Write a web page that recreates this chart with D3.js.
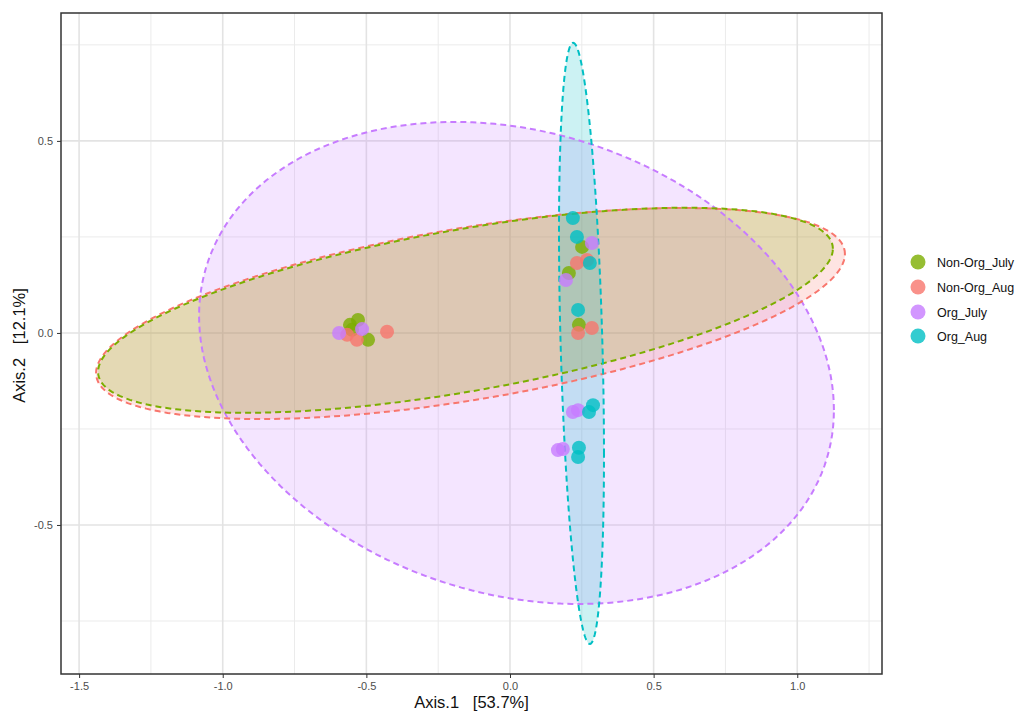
<!DOCTYPE html>
<html>
<head>
<meta charset="utf-8">
<script src="https://cdn.jsdelivr.net/npm/d3@7"></script>
<style>
  html, body { margin: 0; padding: 0; background: #fff; }
  svg { display: block; }
</style>
</head>
<body>
<svg id="chart" width="1021" height="713"></svg>
<script>
// ---------- data ----------
const groups = ["Non-Org_July", "Non-Org_Aug", "Org_July", "Org_Aug"];
const groupColors = ["#7CAE00", "#F8766D", "#C77CFF", "#00BFC4"];

const nonOrgJulyX = [-0.529, -0.557, -0.550, -0.494, 0.251, 0.205, 0.240];
const nonOrgJulyY = [0.034, 0.021, 0.008, -0.018, 0.224, 0.156, 0.021];

const nonOrgAugX = [-0.567, -0.533, -0.428, 0.268, 0.233, 0.285, 0.237];
const nonOrgAugY = [-0.005, -0.018, 0.003, 0.190, 0.182, 0.013, 0.000];

const orgJulyX = [-0.595, -0.515, 0.285, 0.195, 0.219, 0.237, 0.167, 0.184];
const orgJulyY = [0.000, 0.010, 0.234, 0.138, -0.206, -0.201, -0.305, -0.302];

const orgAugX = [0.219, 0.233, 0.278, 0.237, 0.289, 0.275, 0.240, 0.237];
const orgAugY = [0.299, 0.250, 0.182, 0.060, -0.188, -0.206, -0.299, -0.323];

// 95% ellipse parameters per group (data units): centre, spread along x / y, covariance term
const ellipseCenterX = [-0.155, -0.1375, 0.0226, 0.2489];
const ellipseCenterY = [0.059, 0.0505, -0.0781, -0.0273];
const ellipseSpreadX = [1.279, 1.3035, 1.105, 0.0783];
const ellipseSpreadY = [0.267, 0.2747, 0.6276, 0.7826];
const ellipseCov = [0.2049, 0.2020, -0.1353, -0.02266];

const xTicks = [-1.5, -1.0, -0.5, 0.0, 0.5, 1.0];
const xMinor = [-1.25, -0.75, -0.25, 0.25, 0.75, 1.25];
const yTicks = [-0.5, 0.0, 0.5];
const yMinor = [-0.75, -0.25, 0.25, 0.75];
const xTitle = "Axis.1   [53.7%]";
const yTitle = "Axis.2   [12.1%]";

// ---------- layout ----------
const svg = d3.select("#chart");
const P = { left: 61, right: 882, top: 13, bottom: 674 };
const x = d3.scaleLinear().domain([-1.563, 1.295]).range([P.left, P.right]);
const y = d3.scaleLinear().domain([-0.888, 0.833]).range([P.bottom, P.top]);
const fmt = d => d3.format(".1f")(d).replace("\u2212", "-");

svg.append("rect").attr("x", P.left).attr("y", P.top)
  .attr("width", P.right - P.left).attr("height", P.bottom - P.top).attr("fill", "#fff");

const grid = svg.append("g");
grid.selectAll(".xmin").data(xMinor).join("line")
  .attr("x1", d => x(d)).attr("x2", d => x(d)).attr("y1", P.top).attr("y2", P.bottom)
  .attr("stroke", "#ebebeb").attr("stroke-width", 1);
grid.selectAll(".ymin").data(yMinor).join("line")
  .attr("y1", d => y(d)).attr("y2", d => y(d)).attr("x1", P.left).attr("x2", P.right)
  .attr("stroke", "#ebebeb").attr("stroke-width", 1);
grid.selectAll(".xmaj").data(xTicks).join("line")
  .attr("x1", d => x(d)).attr("x2", d => x(d)).attr("y1", P.top).attr("y2", P.bottom)
  .attr("stroke", "#e3e3e3").attr("stroke-width", 1.6);
grid.selectAll(".ymaj").data(yTicks).join("line")
  .attr("y1", d => y(d)).attr("y2", d => y(d)).attr("x1", P.left).attr("x2", P.right)
  .attr("stroke", "#e3e3e3").attr("stroke-width", 1.6);

// ---------- ellipses ----------
function ellipsePoints(i) {
  const sx = ellipseSpreadX[i], sy = ellipseSpreadY[i], c = ellipseCov[i];
  const l21 = c / sx;
  const l22 = Math.sqrt(sy * sy - l21 * l21);
  return d3.range(0, 361, 2).map(a => {
    const t = a * Math.PI / 180;
    return [ellipseCenterX[i] + sx * Math.cos(t),
            ellipseCenterY[i] + l21 * Math.cos(t) + l22 * Math.sin(t)];
  });
}
const line = d3.line().x(d => x(d[0])).y(d => y(d[1])).curve(d3.curveLinearClosed);
svg.append("clipPath").attr("id", "panel").append("rect")
  .attr("x", P.left).attr("y", P.top).attr("width", P.right - P.left).attr("height", P.bottom - P.top);

const drawOrder = [2, 1, 0, 3];
const eg = svg.append("g").attr("clip-path", "url(#panel)");
eg.selectAll("path.fill").data(drawOrder).join("path")
  .attr("d", i => line(ellipsePoints(i)))
  .attr("fill", i => groupColors[i]).attr("fill-opacity", 0.2).attr("stroke", "none");
eg.selectAll("path.edge").data(drawOrder).join("path")
  .attr("d", i => line(ellipsePoints(i)))
  .attr("fill", "none").attr("stroke", i => groupColors[i])
  .attr("stroke-width", 2).attr("stroke-dasharray", "6,4");

// ---------- points ----------
const seriesX = [nonOrgJulyX, nonOrgAugX, orgJulyX, orgAugX];
const seriesY = [nonOrgJulyY, nonOrgAugY, orgJulyY, orgAugY];
const pts = [];
seriesX.forEach((xs, g) => xs.forEach((v, k) => pts.push({ g, x: v, y: seriesY[g][k] })));
svg.append("g").selectAll("circle").data(pts).join("circle")
  .attr("cx", d => x(d.x)).attr("cy", d => y(d.y)).attr("r", 7)
  .attr("fill", d => groupColors[d.g]).attr("fill-opacity", 0.8);

// ---------- frame & axes ----------
svg.append("rect").attr("x", P.left).attr("y", P.top)
  .attr("width", P.right - P.left).attr("height", P.bottom - P.top)
  .attr("fill", "none").attr("stroke", "#333").attr("stroke-width", 1.5);

const xAxis = svg.append("g").attr("transform", `translate(0,${P.bottom})`)
  .call(d3.axisBottom(x).tickValues(xTicks).tickFormat(fmt).tickSize(4).tickPadding(4));
xAxis.select(".domain").remove();
xAxis.selectAll("line").attr("stroke", "#333");
xAxis.selectAll("text").attr("fill", "#4d4d4d").attr("font-size", 11)
  .attr("font-family", "'Liberation Sans', Arial, sans-serif");

const yAxis = svg.append("g").attr("transform", `translate(${P.left},0)`)
  .call(d3.axisLeft(y).tickValues(yTicks).tickFormat(fmt).tickSize(4).tickPadding(4));
yAxis.select(".domain").remove();
yAxis.selectAll("line").attr("stroke", "#333");
yAxis.selectAll("text").attr("fill", "#4d4d4d").attr("font-size", 11)
  .attr("font-family", "'Liberation Sans', Arial, sans-serif");

svg.append("text").attr("x", (P.left + P.right) / 2).attr("y", 708)
  .attr("text-anchor", "middle").attr("font-size", 16.5).attr("fill", "#111")
  .attr("font-family", "'Liberation Sans', Arial, sans-serif")
  .style("white-space", "pre").text(xTitle);
svg.append("text").attr("transform", `translate(25,${(P.top + P.bottom) / 2 + 2}) rotate(-90)`)
  .attr("text-anchor", "middle").attr("font-size", 16.5).attr("fill", "#111")
  .attr("font-family", "'Liberation Sans', Arial, sans-serif")
  .style("white-space", "pre").text(yTitle);

// ---------- legend ----------
const legendY = [262, 287, 312, 336];
const lg = svg.append("g");
lg.selectAll("circle").data(groups).join("circle")
  .attr("cx", 918).attr("cy", (d, i) => legendY[i]).attr("r", 7.5)
  .attr("fill", (d, i) => groupColors[i]).attr("fill-opacity", 0.8);
lg.selectAll("text").data(groups).join("text")
  .attr("x", 937).attr("y", (d, i) => legendY[i] + 4.5)
  .attr("font-size", 12.5).attr("fill", "#111")
  .attr("font-family", "'Liberation Sans', Arial, sans-serif")
  .text(d => d);
</script>
</body>
</html>
